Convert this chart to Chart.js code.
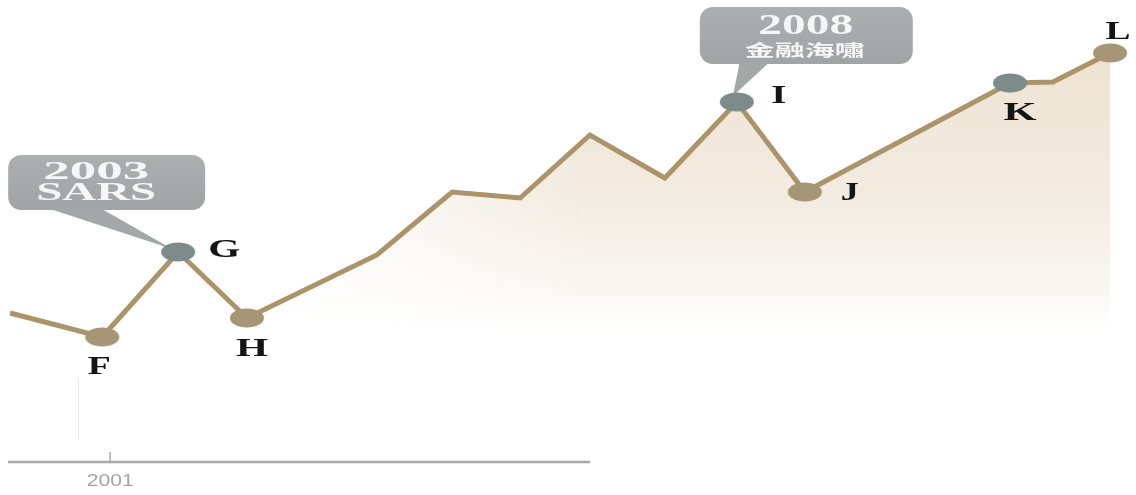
<!DOCTYPE html>
<html>
<head>
<meta charset="utf-8">
<script src="https://cdn.jsdelivr.net/npm/chart.js@4"></script>
<style>
  html, body { margin: 0; padding: 0; background: #fff; }
  #wrap { width: 1136px; height: 495px; }
</style>
</head>
<body>
<div id="wrap"><canvas id="lineChart" width="1136" height="495"></canvas></div>
<script>
// Posicion de cada punto en la linea de tiempo
var posiciones = [0, 2.56, 4.67, 6.58, 10.19, 12.28, 14.17, 16.11, 18.19, 20.19, 22.08, 27.78, 28.97, 30.56];
// Valor de cada punto
var valores = [18.2, 15.8, 24.3, 17.7, 24.0, 30.3, 29.7, 36.0, 31.7, 39.3, 30.3, 41.2, 41.3, 44.2];
// Letra de cada punto marcado
var etiquetas = ['', 'F', 'G', 'H', '', '', '', '', '', 'I', 'J', 'K', '', 'L'];
// Marca: 0 ninguna, 1 tostada, 2 gris
var marcas = [0, 1, 2, 1, 0, 0, 0, 0, 0, 2, 1, 2, 0, 1];
// Globos de eventos
var eventosPunto = [2, 9];
var eventosTexto = [['2003', 'SARS'], ['2008', '金融海嘯']];
// Eje inferior
var ticksX = [2.78];
var ticksTexto = ['2001'];
var ejeDesde = -0.06;
var ejeHasta = 16.11;

window.onload = function () {

    function elipse(color) {
        var c = document.createElement('canvas');
        c.width = 38;
        c.height = 22;
        var g = c.getContext('2d');
        g.fillStyle = color;
        g.beginPath();
        g.ellipse(19, 11, 17, 9.5, 0, 0, Math.PI * 2);
        g.fill();
        return c;
    }

    var puntoTostado = elipse('#a69676');
    var puntoGris = elipse('#7e8b8b');

    function texto(ctx, str, x, y, fuente, ancho, color) {
        ctx.save();
        ctx.font = fuente;
        var w = ctx.measureText(str).width;
        ctx.translate(x, y);
        ctx.scale(ancho / w, 1);
        ctx.fillStyle = color;
        ctx.textAlign = 'center';
        ctx.textBaseline = 'middle';
        ctx.fillText(str, 0, 0);
        ctx.restore();
    }

    function cajaRedonda(ctx, x, y, w, h, r) {
        ctx.beginPath();
        ctx.moveTo(x + r, y);
        ctx.lineTo(x + w - r, y);
        ctx.arcTo(x + w, y, x + w, y + r, r);
        ctx.lineTo(x + w, y + h - r);
        ctx.arcTo(x + w, y + h, x + w - r, y + h, r);
        ctx.lineTo(x + r, y + h);
        ctx.arcTo(x, y + h, x, y + h - r, r);
        ctx.lineTo(x, y + r);
        ctx.arcTo(x, y, x + r, y, r);
        ctx.closePath();
    }

    // Relleno: degradado vertical que se desvanece hacia la izquierda
    var patronCache = null;
    function relleno(chart) {
        if (patronCache) return patronCache;
        var xs = chart.scales.x, ys = chart.scales.y;
        var c = document.createElement('canvas');
        c.width = chart.width;
        c.height = chart.height;
        var g = c.getContext('2d');
        var v = g.createLinearGradient(0, ys.getPixelForValue(45), 0, ys.getPixelForValue(15.5));
        v.addColorStop(0, 'rgba(238,226,209,1)');
        v.addColorStop(0.55, 'rgba(242,234,223,0.9)');
        v.addColorStop(0.85, 'rgba(247,243,236,0.6)');
        v.addColorStop(1, 'rgba(255,255,255,0)');
        g.fillStyle = v;
        g.fillRect(0, 0, c.width, c.height);
        g.globalCompositeOperation = 'destination-in';
        var h = g.createLinearGradient(xs.getPixelForValue(6.8), 0, xs.getPixelForValue(16), 0);
        h.addColorStop(0, 'rgba(0,0,0,0)');
        h.addColorStop(1, 'rgba(0,0,0,1)');
        g.fillStyle = h;
        g.fillRect(0, 0, c.width, c.height);
        patronCache = chart.ctx.createPattern(c, 'no-repeat');
        return patronCache;
    }

    // Geometria de los globos respecto a su punto
    var globos = [
        { dx: -170, dy: -97, w: 197, h: 55, cola: [-131, -78], punta: [-6, -3],
          lineas: [{ x: 88, y: 18, f: 'bold 25px "Liberation Serif"', w: 106 },
                   { x: 88, y: 39, f: 'bold 25px "Liberation Serif"', w: 120 }] },
        { dx: -37, dy: -95, w: 213, h: 57, cola: [3, 33], punta: [-4, -6],
          lineas: [{ x: 106, y: 20, f: 'bold 29px "Liberation Serif"', w: 95 },
                   { x: 105, y: 43, f: 'bold 16px "Noto Sans CJK TC"', w: 120 }] }
    ];

    // Posicion de cada letra respecto a su punto
    var letras = {
        F: [-3, 30, 23], G: [46, -2, 32], H: [5, 31, 32], I: [42, -6, 15],
        J: [45, 1, 18], K: [10, 30, 33], L: [8, -21, 25]
    };

    var dibujos = {
        id: 'dibujos',
        beforeDatasetsDraw: function (chart) {
            var ctx = chart.ctx;
            var pts = chart.getDatasetMeta(0).data;
            eventosPunto.forEach(function (idx, i) {
                var p = pts[idx], b = globos[i];
                var x0 = p.x + b.dx, y0 = p.y + b.dy;
                ctx.save();
                var gr = ctx.createLinearGradient(0, y0, 0, y0 + b.h);
                gr.addColorStop(0, '#acafaf');
                gr.addColorStop(1, '#a0a4a4');
                ctx.fillStyle = gr;
                cajaRedonda(ctx, x0, y0, b.w, b.h, 13);
                ctx.fill();
                ctx.fillStyle = '#a3a7a7';
                ctx.beginPath();
                ctx.moveTo(p.x + b.cola[0], y0 + b.h - 2);
                ctx.lineTo(p.x + b.cola[1], y0 + b.h - 2);
                ctx.lineTo(p.x + b.punta[0], p.y + b.punta[1]);
                ctx.closePath();
                ctx.fill();
                ctx.restore();
                eventosTexto[i].forEach(function (t, j) {
                    var l = b.lineas[j];
                    texto(ctx, t, x0 + l.x, y0 + l.y, l.f, l.w, '#f6f6f6');
                });
            });
        },
        afterDatasetsDraw: function (chart) {
            var ctx = chart.ctx;
            var pts = chart.getDatasetMeta(0).data;
            etiquetas.forEach(function (e, i) {
                if (!e) return;
                var o = letras[e];
                texto(ctx, e, pts[i].x + o[0], pts[i].y + o[1], 'bold 26px "Liberation Serif"', o[2], '#151515');
            });

            // Eje inferior
            var xs = chart.scales.x;
            var yEje = 462;
            ctx.save();
            ctx.strokeStyle = '#ececec';
            ctx.lineWidth = 1;
            ctx.beginPath();
            ctx.moveTo(xs.getPixelForValue(1.9), 378);
            ctx.lineTo(xs.getPixelForValue(1.9), 440);
            ctx.stroke();
            ctx.strokeStyle = '#a9a9a9';
            ctx.lineWidth = 2.5;
            ctx.beginPath();
            ctx.moveTo(xs.getPixelForValue(ejeDesde), yEje);
            ctx.lineTo(xs.getPixelForValue(ejeHasta), yEje);
            ctx.stroke();
            ctx.lineWidth = 1.5;
            ticksX.forEach(function (t, i) {
                var x = xs.getPixelForValue(t);
                ctx.beginPath();
                ctx.moveTo(x, yEje - 10);
                ctx.lineTo(x, yEje);
                ctx.stroke();
                texto(ctx, ticksTexto[i], x, yEje + 19, '17px "Liberation Sans"', 47, '#a4a4a4');
            });
            ctx.restore();
        }
    };

    var datos = posiciones.map(function (x, i) {
        return { x: x, y: valores[i] };
    });

    var config = {
        type: 'line',
        data: {
            datasets: [{
                data: datos,
                borderColor: '#ab9469',
                borderWidth: 5,
                borderJoinStyle: 'miter',
                tension: 0,
                fill: { target: { value: 15 } },
                backgroundColor: function (context) {
                    var chart = context.chart;
                    if (!chart.chartArea) return 'rgba(0,0,0,0)';
                    return relleno(chart);
                },
                pointRadius: marcas.map(function (m) { return m ? 10 : 0; }),
                pointStyle: marcas.map(function (m) { return m === 2 ? puntoGris : puntoTostado; })
            }]
        },
        options: {
            responsive: false,
            animation: false,
            layout: { padding: 0, autoPadding: false },
            plugins: { legend: { display: false }, tooltip: { enabled: false } },
            scales: {
                x: { type: 'linear', display: false, min: -0.28, max: 31.28 },
                y: { display: false, min: 0, max: 49.5 }
            }
        },
        plugins: [dibujos]
    };

    window.myLine = new Chart(document.getElementById('lineChart'), config);
};
</script>
</body>
</html>
